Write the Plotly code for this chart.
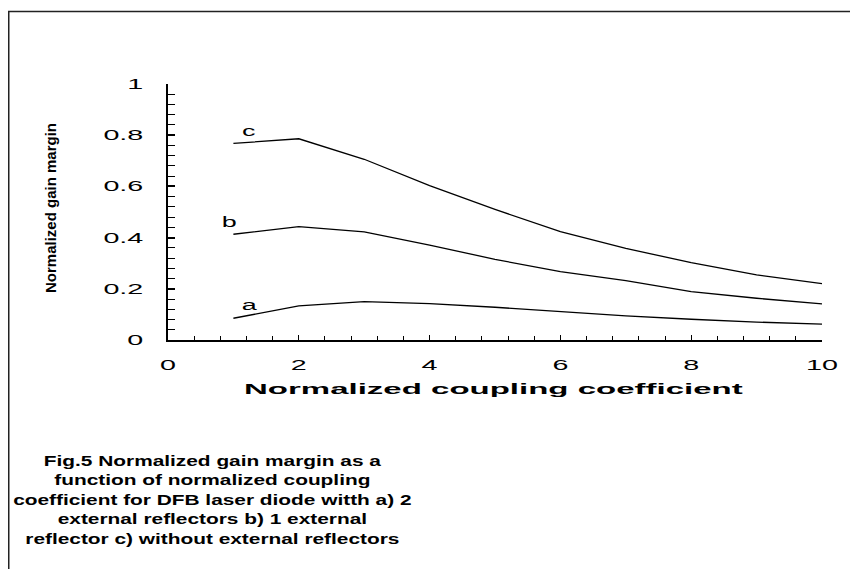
import plotly.graph_objects as go

x_vals = [1, 2, 3, 4, 5, 6, 7, 8, 9, 10]
curve_a = [0.085, 0.133, 0.150, 0.142, 0.128, 0.111, 0.094, 0.081, 0.070, 0.062]
curve_b = [0.413, 0.443, 0.422, 0.371, 0.315, 0.267, 0.232, 0.189, 0.163, 0.141]
curve_c = [0.768, 0.786, 0.706, 0.603, 0.510, 0.423, 0.358, 0.302, 0.254, 0.220]
curve_names = ["a", "b", "c"]
label_pos = [(1.24, 0.14), (0.93, 0.462), (1.24, 0.82)]

x_title = "Normalized coupling coefficient"
y_title = "Normalized gain margin"
caption_lines = [
    "Fig.5 Normalized gain margin as a",
    "function of normalized coupling",
    "coefficient for DFB laser diode witth a) 2",
    "external reflectors b) 1 external",
    "reflector c) without external reflectors",
]

W, H = 858, 569
L, R, T, B = 160, 44, 76, 237
pw, ph = W - L - R, H - T - B


def px(x):
    return (x - L) / pw


def py(y):
    return (H - B - y) / ph


FONT = "Liberation Sans, Arial, sans-serif"

fig = go.Figure()
for name, ys in zip(curve_names, [curve_a, curve_b, curve_c]):
    fig.add_trace(go.Scatter(x=x_vals, y=ys, mode="lines", name=name,
                             line=dict(color="black", width=1.3), showlegend=False))

for name, (lx, ly) in zip(curve_names, label_pos):
    fig.add_annotation(x=lx, y=ly, text=name, showarrow=False,
                       font=dict(family=FONT, size=15, color="black"))

fig.add_annotation(xref="paper", yref="paper", x=px(485), y=py(380), xanchor="center", yanchor="middle",
                   text="<b>%s</b>" % x_title,
                   showarrow=False, font=dict(family=FONT, size=15, color="black"))
fig.add_annotation(xref="paper", yref="paper", x=px(42), y=py(200), xanchor="center", yanchor="middle",
                   text="<b>%s</b>" % y_title,
                   showarrow=False, textangle=-90, font=dict(family=FONT, size=15, color="black"))
fig.add_annotation(xref="paper", yref="paper", x=px(204), y=py(491), xanchor="center", yanchor="middle",
                   text="<br>".join("<b>%s</b>" % s for s in caption_lines),
                   showarrow=False, align="center",
                   font=dict(family=FONT, size=15, color="black"))

fig.add_shape(type="rect", xref="paper", yref="paper",
              x0=px(0.75), x1=px(W + 40), y0=py(H + 40), y1=py(3.5),
              line=dict(color="#222", width=1.5))

fig.update_layout(
    width=W, height=H,
    margin=dict(l=L, r=R, t=T, b=B),
    paper_bgcolor="white", plot_bgcolor="white",
    font=dict(family=FONT, size=14, color="black"),
    xaxis=dict(range=[0, 10], dtick=2, tick0=0, showline=True, linecolor="black", linewidth=1.5,
               ticks="inside", ticklen=5, tickwidth=1.2, tickcolor="black",
               minor=dict(dtick=0.4, ticks="inside", ticklen=4, tickcolor="black", tickwidth=1),
               showgrid=False, zeroline=False, ticklabelstandoff=11,
               tickfont=dict(family=FONT, size=14)),
    yaxis=dict(range=[0, 1], dtick=0.2, tick0=0, showline=True, linecolor="black", linewidth=1.8,
               ticks="inside", ticklen=7, tickwidth=1.5, tickcolor="black",
               minor=dict(dtick=0.04, ticks="inside", ticklen=7, tickcolor="black", tickwidth=1),
               showgrid=False, zeroline=False, ticklabelstandoff=20,
               tickfont=dict(family=FONT, size=14)),
)

# Widen the glyphs horizontally, as in the reference rendering (text stays real SVG text).
post = """
var gd = document.getElementById('{plot_id}');
function stretch(nodes, sx) {
  nodes.forEach(function (t) {
    var x = parseFloat(t.getAttribute('x')) || 0;
    var tr = t.getAttribute('transform') || '';
    t.setAttribute('transform', tr + ' translate(' + x + ',0) scale(' + sx + ',1) translate(' + (-x) + ',0)');
  });
}
stretch(gd.querySelectorAll('.xtick text, .ytick text'), 2.05);
gd.querySelectorAll('.annotation-text').forEach(function (t) {
  var s = t.textContent;
  var f = 1.0;
  if (s.indexOf('Fig.5') === 0) f = 1.39;
  else if (s.indexOf('coupling coefficient') > 0 && s.length < 40) f = 2.2;
  else if (s.length === 1) f = 1.8;
  if (f !== 1.0) stretch([t], f);
});
"""

fig.write_html("out.html", post_script=post)
